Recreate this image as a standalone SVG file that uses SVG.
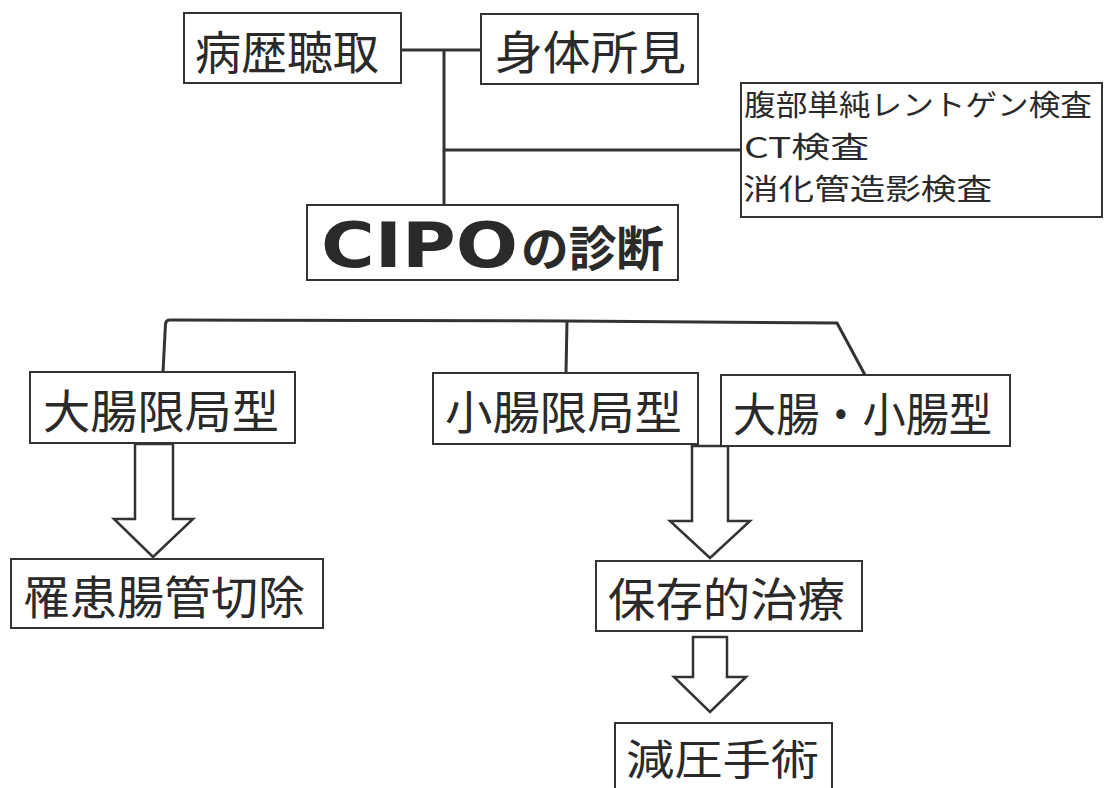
<svg xmlns="http://www.w3.org/2000/svg" width="1105" height="788" viewBox="0 0 1105 788">
<style>
.box{fill:#fff;stroke:#333;stroke-width:2}
.t{font-family:"Noto Sans CJK JP","Noto Sans CJK SC",sans-serif;font-size:46px;fill:#2a2a2a;dominant-baseline:central}
.s{font-family:"Noto Sans CJK JP","Noto Sans CJK SC",sans-serif;font-size:29px;fill:#2a2a2a;dominant-baseline:central}
.ln{fill:none;stroke:#333;stroke-width:3;stroke-linejoin:round}
.ar{fill:#fff;stroke:#333;stroke-width:2.5;stroke-linejoin:miter}
</style>
<rect width="1105" height="788" fill="#fff"/>
<g id="connectors">
<line class="ln" x1="401" y1="50" x2="481" y2="50"/>
<line class="ln" x1="444" y1="50" x2="444" y2="205"/>
<line class="ln" x1="444" y1="150" x2="741" y2="150"/>
<path class="ln" d="M163,372 L165.5,324 Q166,320 170,320 L567,321 L837,323 L865,375"/>
<line class="ln" x1="567" y1="321" x2="566" y2="373"/>
<polygon class="ar" points="135,444 173,444 173,519 193,519 153,557 114,519 135,519"/>
<polygon class="ar" points="692,446 728,446 728,521 750,521 710,558 670,521 692,521"/>
<polygon class="ar" points="693,637 727,637 727,677 746,677 710,712 674,677 693,677"/>
</g>
<g id="node-byoreki">
<rect class="box" x="184" y="13" width="217" height="70"/>
<text class="t" x="195" y="49" textLength="184" lengthAdjust="spacingAndGlyphs">病歴聴取</text>
</g>
<g id="node-shintai">
<rect class="box" x="481" y="14" width="217" height="70"/>
<text class="t" x="495" y="49" textLength="191" lengthAdjust="spacingAndGlyphs">身体所見</text>
</g>
<g id="node-exams">
<rect class="box" x="741" y="83" width="361" height="134"/>
<text class="s" x="744" y="103" textLength="348" lengthAdjust="spacingAndGlyphs">腹部単純レントゲン検査</text>
<text class="s" x="744" y="145" textLength="125" lengthAdjust="spacingAndGlyphs">CT検査</text>
<text class="s" x="743" y="187" textLength="249" lengthAdjust="spacingAndGlyphs">消化管造影検査</text>
</g>
<g id="node-cipo">
<rect class="box" x="307" y="205" width="371" height="75"/>
<text x="321" y="267" font-family="DejaVu Sans" font-weight="bold" font-size="62" fill="#2a2a2a" textLength="197" lengthAdjust="spacingAndGlyphs">CIPO</text>
<text x="521" y="245" font-family="Noto Sans CJK JP, sans-serif" font-weight="bold" font-size="48" fill="#2a2a2a" dominant-baseline="central" textLength="143" lengthAdjust="spacingAndGlyphs">の診断</text>
</g>
<g id="node-daichou">
<rect class="box" x="30" y="372" width="265" height="71"/>
<text class="t" x="43" y="408" textLength="236" lengthAdjust="spacingAndGlyphs">大腸限局型</text>
</g>
<g id="node-shouchou">
<rect class="box" x="433" y="373" width="265" height="71"/>
<text class="t" x="445" y="409" textLength="237" lengthAdjust="spacingAndGlyphs">小腸限局型</text>
</g>
<g id="node-both">
<rect class="box" x="721" y="375" width="289" height="71"/>
<text class="t" x="733" y="411" textLength="259" lengthAdjust="spacingAndGlyphs">大腸・小腸型</text>
</g>
<g id="node-resection">
<rect class="box" x="11" y="559" width="312" height="69"/>
<text class="t" x="23" y="594" textLength="282" lengthAdjust="spacingAndGlyphs">罹患腸管切除</text>
</g>
<g id="node-conservative">
<rect class="box" x="596" y="561" width="266" height="70"/>
<text class="t" x="608" y="596" textLength="237" lengthAdjust="spacingAndGlyphs">保存的治療</text>
</g>
<g id="node-decompression">
<rect class="box" x="615" y="723" width="217" height="75"/>
<text class="t" x="626" y="756" style="font-size:42px" textLength="193" lengthAdjust="spacingAndGlyphs">減圧手術</text>
</g>
</svg>
